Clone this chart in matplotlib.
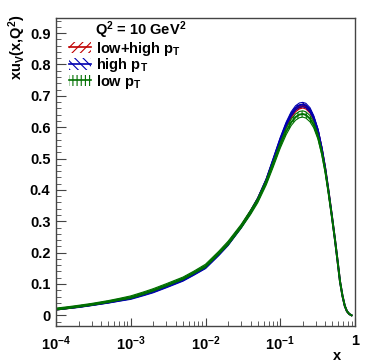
import numpy as np
import matplotlib.pyplot as plt
from matplotlib.patches import Patch
from matplotlib.lines import Line2D
from matplotlib.ticker import LogLocator, MultipleLocator, FixedLocator

plt.rcParams['font.family'] = ['Liberation Sans', 'DejaVu Sans']
plt.rcParams['font.weight'] = 'bold'
plt.rcParams['mathtext.fontset'] = 'custom'
plt.rcParams['mathtext.rm'] = 'Liberation Sans:bold'
plt.rcParams['mathtext.it'] = 'Liberation Sans:bold'
plt.rcParams['mathtext.bf'] = 'Liberation Sans:bold'
plt.rcParams['hatch.linewidth'] = 0.8

# x grid
x = [1e-4, 1.5e-4, 2e-4, 3e-4, 5e-4, 7e-4, 1e-3, 1.5e-3, 2e-3, 3e-3, 5e-3,
     7e-3, 1e-2, 1.5e-2, 2e-2, 3e-2, 4e-2, 5e-2, 6.5e-2, 8e-2, 0.1, 0.12,
     0.14, 0.16, 0.18, 0.2, 0.22, 0.25, 0.28, 0.32, 0.36, 0.4, 0.44, 0.49,
     0.54, 0.58, 0.63, 0.68, 0.73, 0.78, 0.84, 0.9]

# central values of xu_v
lowhigh = [0.019, 0.024, 0.028, 0.034, 0.042, 0.049, 0.056, 0.069, 0.078,
           0.094, 0.115, 0.134, 0.155, 0.197, 0.228, 0.284, 0.330, 0.370,
           0.430, 0.490, 0.556, 0.604, 0.636, 0.655, 0.664, 0.667, 0.664,
           0.651, 0.628, 0.586, 0.530, 0.468, 0.400, 0.318, 0.241, 0.180,
           0.108, 0.062, 0.030, 0.013, 0.004, 0.0]
high = [0.019, 0.024, 0.027, 0.033, 0.041, 0.047, 0.054, 0.066, 0.075,
        0.091, 0.112, 0.131, 0.152, 0.194, 0.226, 0.282, 0.329, 0.370,
        0.431, 0.493, 0.561, 0.610, 0.642, 0.661, 0.670, 0.672, 0.669,
        0.655, 0.631, 0.588, 0.531, 0.468, 0.400, 0.318, 0.241, 0.180,
        0.108, 0.062, 0.030, 0.013, 0.004, 0.0]
low = [0.020, 0.025, 0.029, 0.035, 0.044, 0.051, 0.058, 0.071, 0.081,
       0.097, 0.118, 0.137, 0.158, 0.199, 0.230, 0.284, 0.328, 0.366,
       0.424, 0.480, 0.542, 0.586, 0.615, 0.632, 0.640, 0.642, 0.639,
       0.627, 0.607, 0.569, 0.518, 0.460, 0.395, 0.316, 0.240, 0.180,
       0.108, 0.062, 0.030, 0.013, 0.004, 0.0]

# half widths of the uncertainty bands
err_lowhigh = [0.002, 0.002, 0.002, 0.002, 0.002, 0.002, 0.002, 0.002, 0.002,
               0.002, 0.002, 0.002, 0.003, 0.003, 0.003, 0.003, 0.004, 0.004,
               0.004, 0.005, 0.005, 0.005, 0.006, 0.006, 0.006, 0.006, 0.006,
               0.006, 0.005, 0.005, 0.004, 0.004, 0.003, 0.003, 0.002, 0.002,
               0.001, 0.001, 0.001, 0.0005, 0.0005, 0.0]
err_high = [0.002, 0.002, 0.002, 0.002, 0.002, 0.002, 0.003, 0.003, 0.003,
            0.003, 0.003, 0.003, 0.003, 0.004, 0.004, 0.004, 0.005, 0.005,
            0.005, 0.006, 0.006, 0.006, 0.007, 0.007, 0.007, 0.007, 0.007,
            0.007, 0.006, 0.006, 0.005, 0.004, 0.003, 0.003, 0.002, 0.002,
            0.001, 0.001, 0.001, 0.0005, 0.0005, 0.0]
err_low = [0.003, 0.003, 0.003, 0.003, 0.003, 0.003, 0.004, 0.004, 0.004,
           0.004, 0.004, 0.004, 0.005, 0.005, 0.006, 0.006, 0.007, 0.007,
           0.008, 0.009, 0.009, 0.010, 0.010, 0.010, 0.010, 0.010, 0.010,
           0.010, 0.009, 0.008, 0.007, 0.006, 0.004, 0.003, 0.002, 0.002,
           0.001, 0.001, 0.001, 0.0005, 0.0005, 0.0]

labels = [r'low+high p$_{\mathrm{T}}$', r'high p$_{\mathrm{T}}$', r'low p$_{\mathrm{T}}$']
colors = ['#c00000', '#0000b0', '#007000']
hatches = ['////', '\\\\\\\\', '||||']
x_ticks = [1e-4, 1e-3, 1e-2, 1e-1, 1]
x_ticklabels = [r'$10^{-4}$', r'$10^{-3}$', r'$10^{-2}$', r'$10^{-1}$', '1']
y_ticks = [0, 0.1, 0.2, 0.3, 0.4, 0.5, 0.6, 0.7, 0.8, 0.9]
y_ticklabels = ['0', '0.1', '0.2', '0.3', '0.4', '0.5', '0.6', '0.7', '0.8', '0.9']

fig = plt.figure(figsize=(3.74, 3.63), dpi=100)
ax = fig.add_axes([56 / 374, 1 - 326 / 363, 299 / 374, 308 / 363])

handles = []
for cen, err, col, hat in zip([lowhigh, high, low],
                              [err_lowhigh, err_high, err_low],
                              colors, hatches):
    cen = np.array(cen)
    err = np.array(err)
    ax.fill_between(x, cen - err, cen + err, facecolor='none',
                    edgecolor=col, hatch=hat, linewidth=0)
    ax.plot(x, cen + err, color=col, lw=0.8)
    ax.plot(x, cen - err, color=col, lw=0.8)
    ax.plot(x, cen, color=col, lw=1.4)
    p = Patch(facecolor='none', edgecolor=col, hatch=hat, linewidth=0)
    l = Line2D([], [], color=col, lw=1.2)
    handles.append((p, l))

ax.set_xscale('log')
ax.set_xlim(1e-4, 1)
ax.set_ylim(-0.034, 0.948)

frame_col = '#444444'
for s in ax.spines.values():
    s.set_color(frame_col)
    s.set_linewidth(1.0)

ax.xaxis.set_major_locator(FixedLocator(x_ticks))
ax.set_xticklabels(x_ticklabels)
ax.xaxis.set_minor_locator(LogLocator(base=10, subs=np.arange(2, 10)))
ax.set_yticks(y_ticks)
ax.set_yticklabels(y_ticklabels)
ax.yaxis.set_minor_locator(MultipleLocator(0.02))
ax.tick_params(which='both', direction='in', color=frame_col, labelsize=10.5)
ax.tick_params(axis='y', which='major', length=7.2, pad=4)
ax.tick_params(axis='y', which='minor', length=3.6)
ax.tick_params(axis='x', which='major', length=5.8, pad=6)
ax.tick_params(axis='x', which='minor', length=3.6)

ax.set_ylabel(r'xu$_{\mathrm{V}}$(x,Q$^{2}$)', fontsize=10.5, fontweight='bold', loc='top')
ax.yaxis.set_label_coords(-0.095, 1.01)
ax.set_xlabel('x', fontsize=10.5, fontweight='bold')
ax.xaxis.set_label_coords(0.94, -0.075)

ax.text(0.13, 0.945, r'Q$^{2}$ = 10 GeV$^{2}$', transform=ax.transAxes,
        fontsize=10.5, fontweight='bold', va='baseline', ha='left')
ax.legend(handles, labels, loc='upper left', bbox_to_anchor=(0.045, 0.93),
          frameon=False, fontsize=10.5, handlelength=1.5, handleheight=0.8,
          handletextpad=0.3, labelspacing=-0.1, borderaxespad=0,
          borderpad=0)

fig.savefig('out.png', dpi=100)
